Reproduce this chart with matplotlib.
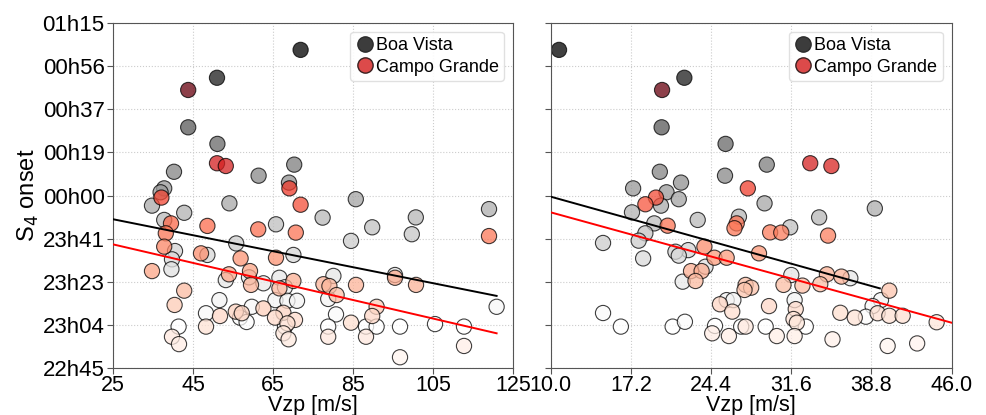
import numpy as np
import matplotlib
matplotlib.use("Agg")
import matplotlib.pyplot as plt
from matplotlib.lines import Line2D

# onset times in minutes relative to 00h00 (UT)
bv_vzp_left = [71.9, 51.0, 43.8, 51.1, 70.3, 40.25, 61.4, 69.0, 37.8, 36.9, 54.1, 85.7, 34.75,
               119.0, 42.8, 77.4, 100.7, 37.8, 65.75, 89.8, 99.7, 84.5, 55.8, 40.5, 48.6, 70.1,
               39.75, 39.6, 80.1, 53.2, 62.6, 66.6, 68.0, 95.5, 78.8, 51.6, 65.6, 68.6, 71.0,
               59.7, 120.9, 80.75, 48.25, 56.75, 58.4, 41.4, 78.8, 88.25, 90.9, 96.75, 105.5,
               112.75, 68.0, 59.0]
bv_onset_left = [63.2, 51.1, 29.6, 22.4, 13.4, 10.3, 8.6, 5.6, 3.1, 1.4, -3.4, -1.6, -4.4,
                 -5.9, -7.5, -9.6, -9.5, -10.6, -12.5, -13.8, -16.8, -19.7, -20.8, -24.1, -25.8,
                 -25.8, -27.7, -32.0, -34.9, -36.7, -38.1, -35.7, -39.8, -34.5, -44.9, -45.4,
                 -45.4, -45.7, -45.7, -48.3, -48.3, -51.6, -51.1, -53.0, -54.9, -56.9, -56.9,
                 -56.9, -56.9, -56.9, -55.8, -56.9, -56.9, -35.5]

cg_vzp_left = [43.8, 51.0, 53.2, 69.1, 37.1, 71.9, 39.5, 48.6, 61.3, 70.7, 119.0, 38.2, 37.8,
               47.0, 56.9, 65.75, 34.75, 54.0, 59.25, 70.1, 59.5, 95.5, 77.6, 79.1, 85.75,
               100.75, 66.6, 80.9, 42.8, 40.4, 90.9, 62.6, 55.7, 57.2, 67.6, 51.75, 89.8, 65.5,
               70.5, 84.5, 68.6, 48.25, 67.6, 39.75, 78.8, 88.25, 68.9, 41.5, 112.75, 96.75]
cg_onset_left = [45.8, 14.0, 12.8, 3.1, -0.9, -4.0, -12.1, -13.2, -14.7, -16.1, -17.6, -16.4,
                 -22.2, -25.1, -27.3, -27.0, -32.8, -34.2, -32.8, -37.1, -38.8, -35.7, -38.5,
                 -39.3, -38.8, -38.8, -40.3, -43.2, -41.3, -47.5, -48.3, -49.0, -50.4, -51.1,
                 -50.9, -52.3, -52.3, -53.0, -54.0, -55.2, -55.5, -56.9, -59.8, -61.3, -61.3,
                 -61.3, -62.4, -64.5, -65.3, -70.2]

bv_vzp_right = [10.75, 22.0, 19.96, 25.7, 29.4, 19.8, 25.65, 21.7, 17.4, 20.4, 21.5, 29.2, 19.9,
                39.1, 17.3, 23.2, 26.9, 34.1, 19.3, 31.5, 18.5, 17.9, 14.7, 22.35, 21.2, 21.5,
                18.3, 23.9, 31.6, 36.9, 21.85, 25.8, 26.4, 31.9, 39.65, 38.9, 38.3, 14.7, 16.3,
                20.95, 22.05, 24.75, 27.1, 29.3, 32.9]
bv_onset_right = [63.2, 51.1, 29.6, 22.4, 13.4, 10.3, 8.6, 5.6, 3.1, 1.4, -1.6, -3.4, -4.4,
                  -5.6, -7.3, -10.6, -9.2, -9.5, -12.1, -13.8, -16.4, -19.6, -20.6, -23.7,
                  -24.4, -26.1, -27.3, -30.9, -34.5, -35.9, -37.4, -45.4, -45.4, -45.4, -45.4,
                  -48.0, -52.6, -51.0, -56.9, -56.9, -54.8, -56.6, -56.9, -56.9, -56.9]

cg_vzp_right = [20.0, 33.3, 35.2, 27.7, 19.45, 18.5, 20.5, 26.7, 26.5, 29.7, 30.7, 34.9, 23.8,
                28.7, 24.7, 25.8, 22.6, 23.55, 23.0, 34.8, 36.1, 30.9, 32.6, 34.2, 27.5, 28.0,
                27.4, 40.4, 25.2, 29.6, 26.3, 32.0, 31.8, 32.1, 36.0, 37.3, 39.35, 40.4, 41.6,
                44.65, 27.5, 24.5, 26.0, 30.3, 31.9, 35.3, 40.25, 42.9]
cg_onset_right = [45.8, 14.0, 12.8, 3.1, -0.9, -3.8, -13.1, -12.1, -14.2, -16.0, -16.1, -17.4,
                  -22.2, -25.1, -27.0, -27.0, -32.8, -32.8, -37.1, -34.2, -35.2, -38.8, -39.1,
                  -38.5, -38.8, -40.0, -41.0, -41.3, -47.2, -48.0, -50.4, -49.3, -53.6, -55.2,
                  -50.9, -53.0, -51.1, -52.2, -52.2, -55.0, -56.9, -59.8, -61.0, -61.0, -61.0,
                  -62.4, -65.3, -64.2]

# linear fits: (slope, intercept, x_start, x_end)
fit_bv_left = (-0.347, -1.62, 25, 120.9)
fit_cg_left = (-0.4025, -11.14, 25, 120.9)
fit_bv_right = (-1.347, 12.97, 10, 39.55)
fit_cg_right = (-1.331, 6.01, 10, 46)

ytick_labels = ["22h45", "23h04", "23h23", "23h41", "00h00", "00h19", "00h37", "00h56", "01h15"]
xticks_left = [25, 45, 65, 85, 105, 125]
xticks_right = [10.0, 17.2, 24.4, 31.6, 38.8, 46.0]

plt.rcParams['font.family'] = ['Liberation Sans', 'DejaVu Sans']

fig = plt.figure(figsize=(9.86, 4.15), dpi=100)
ax1 = fig.add_axes([0.1146, 0.1125, 0.4057, 0.8328])
ax2 = fig.add_axes([0.5585, 0.1125, 0.4067, 0.8328], sharey=ax1)


def draw(ax, bx, by, cx, cy, fb, fc, xticks, fmt):
    for fx, col in ((fb, "k"), (fc, "red")):
        xs = np.array([fx[2], fx[3]])
        ax.plot(xs, fx[0] * xs + fx[1], color=col, lw=1.4, zorder=3)
    ax.scatter(bx, by, c=by, cmap="Greys", s=120, alpha=0.75, edgecolors="k",
               linewidths=0.8, zorder=2)
    ax.scatter(cx, cy, c=cy, cmap="Reds", s=120, alpha=0.75, edgecolors="k",
               linewidths=0.8, zorder=2)
    ax.set_xlim(xticks[0], xticks[-1])
    ax.set_xticks(xticks)
    ax.set_xticklabels([fmt % t for t in xticks])
    ax.set_xlabel("Vzp [m/s]", fontsize=15.5, labelpad=-1)
    ax.grid(True, color="#cccccc", linestyle=":", linewidth=0.8)
    ax.set_axisbelow(True)
    for sp in ax.spines.values():
        sp.set_color("#555555")
    ax.tick_params(axis="x", labelsize=15.5, length=4, color="#555555", pad=1)
    ax.tick_params(axis="y", labelsize=16, length=4, color="#555555", pad=2)
    handles = [
        Line2D([], [], marker="o", ls="", markersize=11, markerfacecolor="#3c3c3c",
               markeredgecolor="#2a2a2a", label="Boa Vista"),
        Line2D([], [], marker="o", ls="", markersize=11, markerfacecolor="#dc4a4a",
               markeredgecolor="#3a2020", label="Campo Grande"),
    ]
    ax.legend(handles=handles, loc="upper right", fontsize=13, handletextpad=0.1,
              borderpad=0.3, labelspacing=0.25, handlelength=1.0, framealpha=0.9,
              edgecolor="#dddddd")


draw(ax1, bv_vzp_left, bv_onset_left, cg_vzp_left, cg_onset_left,
     fit_bv_left, fit_cg_left, xticks_left, "%d")
draw(ax2, bv_vzp_right, bv_onset_right, cg_vzp_right, cg_onset_right,
     fit_bv_right, fit_cg_right, xticks_right, "%.1f")

ax1.set_ylim(-75, 75)
ax1.set_yticks(np.linspace(-75, 75, len(ytick_labels)))
ax1.set_yticklabels(ytick_labels)
ax1.set_ylabel("S$_4$ onset", fontsize=17, labelpad=1)
plt.setp(ax2.get_yticklabels(), visible=False)

fig.savefig("out.png", dpi=100)
